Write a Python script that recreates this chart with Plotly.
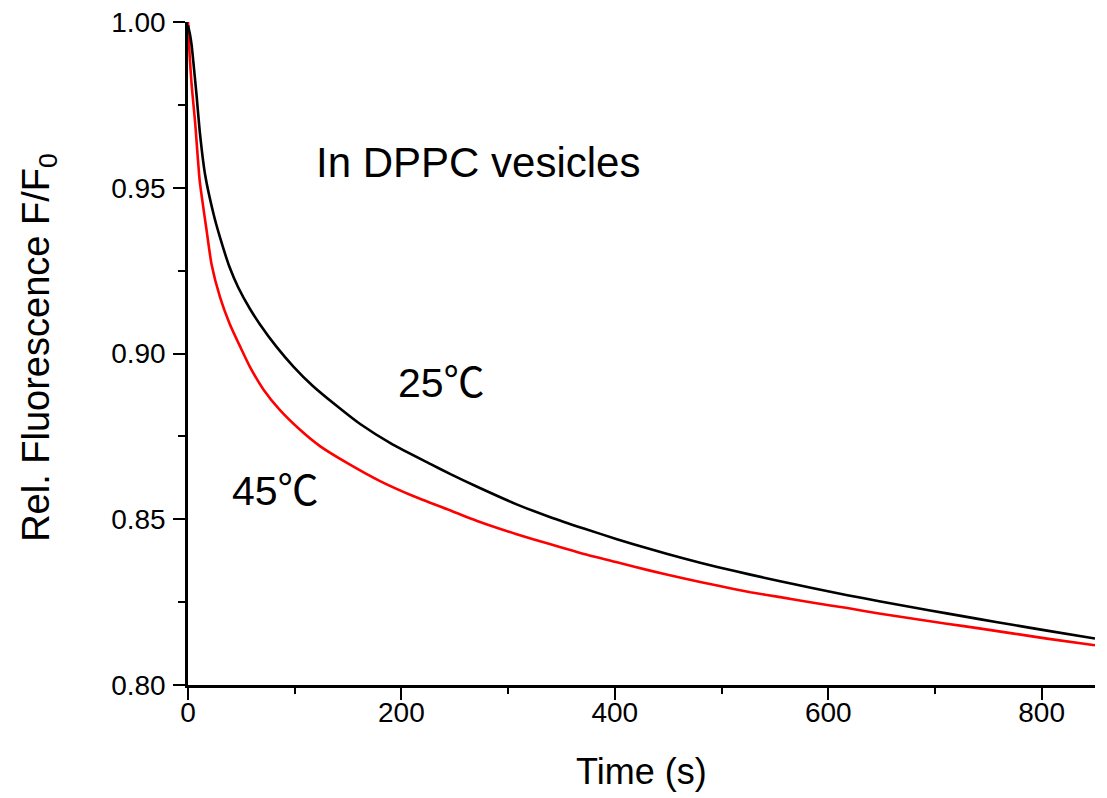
import plotly.graph_objects as go

# Time (s) and relative fluorescence
t_25 = [0, 2, 3.4, 5, 8, 11, 16, 24, 30, 39, 47, 58, 67, 83, 99, 117, 139, 161, 192, 227, 246, 271,
        308, 339, 371, 402, 433, 464, 496, 527, 555, 586, 618, 649, 680, 711, 743, 774, 805, 850]
f_25 = [0.999, 0.996, 0.993, 0.988, 0.978, 0.967, 0.954, 0.942, 0.935, 0.926, 0.920, 0.9135, 0.909,
        0.902, 0.896, 0.8902, 0.8843, 0.8788, 0.8725, 0.8667, 0.8636, 0.8598, 0.8545, 0.8507, 0.8472,
        0.8440, 0.8410, 0.8382, 0.8356, 0.8333, 0.8313, 0.8292, 0.8271, 0.8252, 0.8234, 0.8216,
        0.8198, 0.8181, 0.8164, 0.814]

t_45 = [0, 1.5, 3.4, 6.6, 11, 17.5, 22, 30, 39, 49, 58, 71, 86, 105, 124, 149, 180, 211, 243, 271,
        308, 339, 371, 402, 433, 464, 496, 527, 555, 586, 618, 649, 680, 711, 743, 774, 805, 850]
f_45 = [1.000, 0.990, 0.981, 0.970, 0.952, 0.937, 0.927, 0.917, 0.909, 0.902, 0.896, 0.889, 0.883,
        0.877, 0.872, 0.867, 0.8615, 0.857, 0.853, 0.8495, 0.8455, 0.8425, 0.8395, 0.837, 0.8345,
        0.8322, 0.830, 0.828, 0.8265, 0.8248, 0.8232, 0.8215, 0.820, 0.8185, 0.817, 0.8155, 0.814, 0.812]

x_ticks = [0, 200, 400, 600, 800]
y_ticks = [0.80, 0.85, 0.90, 0.95, 1.00]

font = "Arial, 'Liberation Sans', 'Noto Sans CJK SC', sans-serif"

fig = go.Figure()
fig.add_trace(go.Scatter(x=t_45, y=f_45, mode="lines", name="45℃",
                         line=dict(color="#ff0000", width=2.6, shape="spline", smoothing=0.5)))
fig.add_trace(go.Scatter(x=t_25, y=f_25, mode="lines", name="25℃",
                         line=dict(color="#000000", width=2.6, shape="spline", smoothing=0.5)))

# in-plot labels
fig.add_annotation(x=272, y=0.9575, text="In DPPC vesicles", showarrow=False,
                   font=dict(size=42, color="black"))
fig.add_annotation(x=238, y=0.8911, text="25℃", showarrow=False,
                   font=dict(size=41, color="black"))
fig.add_annotation(x=82, y=0.8585, text="45℃", showarrow=False,
                   font=dict(size=41, color="black"))

# axis titles placed by hand
fig.add_annotation(xref="paper", yref="paper", x=0.4995, y=-0.131, text="Time (s)",
                   xanchor="center", yanchor="middle",
                   showarrow=False, font=dict(size=36, color="black"))
fig.add_annotation(xref="paper", yref="paper", x=-0.1643, y=0.51, textangle=-90,
                   xanchor="center", yanchor="middle",
                   text="Rel. Fluorescence F/F<sub>0</sub>", showarrow=False,
                   font=dict(size=38, color="black"))

fig.update_layout(
    width=1107, height=798,
    margin=dict(l=188, r=12, t=22, b=113),
    plot_bgcolor="white", paper_bgcolor="white",
    showlegend=False,
    font=dict(family=font, color="black"),
)
fig.update_xaxes(
    range=[0, 850], tickvals=x_ticks, ticktext=[str(v) for v in x_ticks], automargin=False,
    showgrid=False, zeroline=False, showline=True, linecolor="black", linewidth=2.5,
    ticks="outside", ticklen=12, tickwidth=2, tickcolor="black",
    minor=dict(tickvals=[100, 300, 500, 700], ticks="outside", ticklen=6, tickwidth=2, tickcolor="black"),
    tickfont=dict(size=28), ticklabelstandoff=-11,
)
fig.update_yaxes(
    range=[0.80, 1.00], tickvals=y_ticks, ticktext=[f"{v:.2f}" for v in y_ticks], automargin=False,
    showgrid=False, zeroline=False, showline=True, linecolor="black", linewidth=2.5,
    ticks="outside", ticklen=12, tickwidth=2, tickcolor="black",
    minor=dict(tickvals=[0.825, 0.875, 0.925, 0.975], ticks="outside", ticklen=7, tickwidth=2, tickcolor="black"),
    tickfont=dict(size=28), ticklabelstandoff=2,
)

fig.write_html("out.html", config={"displayModeBar": False},
               post_script="document.body.style.margin='0';")
